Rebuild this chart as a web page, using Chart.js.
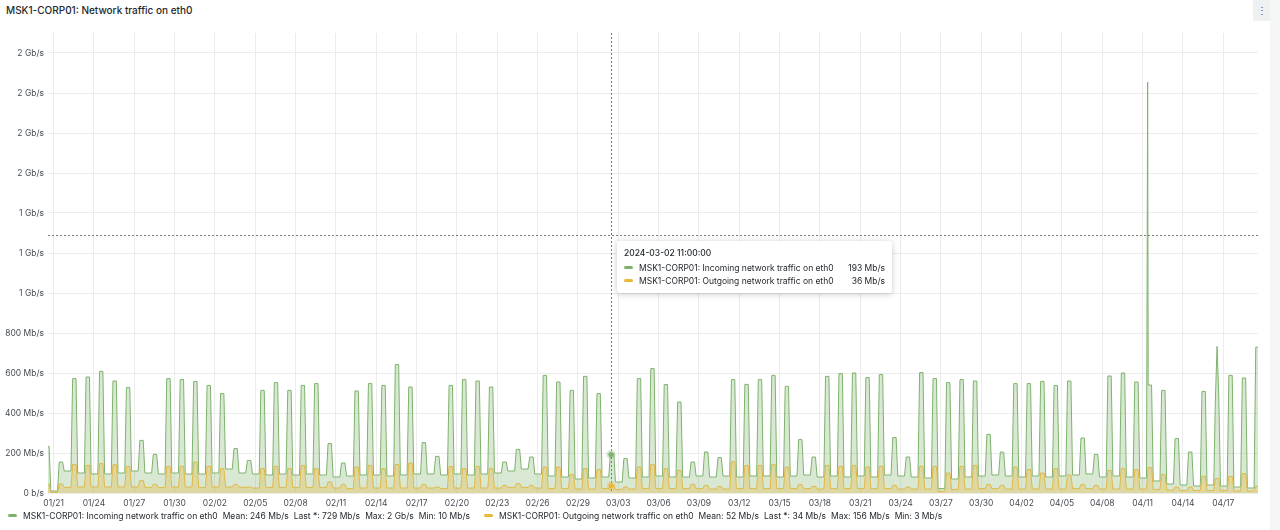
<!DOCTYPE html>
<html>
<head>
<meta charset="utf-8">
<script src="https://cdn.jsdelivr.net/npm/chart.js@4.4.1/dist/chart.umd.min.js"></script>
<style>
  body { margin: 0; background: #fff; font-family: Inter, sans-serif; }
  #wrap { position: relative; width: 1280px; height: 530px; overflow: hidden; }
  #title { position: absolute; left: 6px; top: 4px; font-size: 10px; font-weight: 500; color: #24292e; }
  #menu { position: absolute; left: 1253px; top: 0; width: 17px; height: 21px; background: #eff0f1; color: #555; font-size: 10px; line-height: 20px; text-align: center; }
  #strip { position: absolute; left: 1270px; top: 0; width: 10px; height: 530px; background: #f4f5f5; }
  canvas { position: absolute; left: 0; top: 0; }
  .legend { position: absolute; top: 511px; font-size: 8.5px; color: #24292e; white-space: nowrap; }
  .legend i { display: inline-block; width: 9px; height: 3px; border-radius: 2px; vertical-align: middle; margin-right: 6px; position: relative; top: -1px; }
  .legend span { margin-left: 5px; }
  #tip { position: absolute; left: 617px; top: 241px; width: 275px; height: 52px; background: #fff; border-radius: 3px;
         box-shadow: 0 1px 6px rgba(0,0,0,0.22); font-size: 8.5px; color: #24292e; box-sizing: border-box; padding: 7px 7px 0 7px; }
  #tip .head { font-weight: 500; margin-bottom: 3px; }
  #tip .row { display: flex; align-items: center; height: 13px; }
  #tip .row i { display: inline-block; width: 9px; height: 3px; border-radius: 2px; margin-right: 6px; }
  #tip .row b { font-weight: 400; margin-left: auto; }
</style>
</head>
<body>
<div id="wrap">
  <div id="title">MSK1-CORP01: Network traffic on eth0</div>
  <div id="menu">&#8942;</div>
  <div id="strip"></div>
  <canvas id="chart" width="1262" height="512"></canvas>
  <div class="legend" id="legIn" style="left:8px"></div>
  <div class="legend" id="legOut" style="left:484px"></div>
  <div id="tip"></div>
</div>
<script>
// DATA (one value per day, 2024-01-20 .. 2024-04-19, Mb/s)
const startDay = Date.UTC(2024, 0, 20);

const inPeak = [233, 155,
  572, 580, 608, 560, 527, 263, 193,
  572, 567, 557, 538, 497, 222, 163,
  513, 552, 513, 538, 547, 247, 150,
  510, 547, 538, 642, 530, 252, 183,
  538, 567, 560, 530, 155, 218, 180,
  588, 555, 513, 583, 497, 198, 172,
  572, 622, 542, 455, 155, 205, 177,
  567, 543, 567, 588, 533, 267, 180,
  583, 597, 600, 577, 592, 277, 180,
  602, 572, 552, 567, 560, 293, 205,
  547, 547, 558, 538, 560, 275, 193,
  585, 600, 555, 540, 513, 272, 205,
  508, 480, 588, 575, 729];

const inLow = [60, 10,
  110, 100, 95, 95, 100, 110, 100,
  95, 100, 95, 95, 100, 120, 100,
  95, 90, 95, 90, 95, 90, 80,
  85, 90, 90, 85, 90, 95, 95,
  90, 95, 90, 95, 100, 110, 120,
  95, 85, 80, 70, 75, 80, 55,
  75, 80, 85, 80, 80, 85, 80,
  85, 80, 85, 85, 80, 85, 90,
  80, 85, 80, 85, 80, 90, 85,
  80, 75, 22, 70, 80, 85, 90,
  85, 80, 85, 80, 85, 90, 95,
  80, 85, 80, 75, 60, 45, 40,
  35, 40, 35, 30, 25];

const outPeak = [45, 45,
  143, 138, 147, 142, 133, 63, 43,
  133, 133, 155, 133, 122, 43, 30,
  122, 133, 122, 138, 122, 55, 43,
  130, 138, 122, 143, 150, 43, 30,
  133, 122, 133, 122, 38, 47, 38,
  130, 130, 93, 122, 117, 40, 30,
  130, 143, 122, 113, 43, 38, 33,
  156, 138, 138, 143, 130, 43, 33,
  138, 133, 138, 130, 133, 38, 30,
  133, 133, 100, 133, 138, 43, 38,
  130, 117, 100, 122, 90, 43, 38,
  113, 122, 117, 127, 93, 30, 30,
  83, 72, 83, 97, 34];

const outLow = [25, 3,
  28, 30, 30, 30, 30, 30, 28,
  28, 30, 30, 28, 30, 30, 28,
  25, 28, 28, 28, 28, 28, 25,
  22, 25, 25, 25, 25, 25, 25,
  22, 25, 25, 25, 25, 28, 28,
  25, 22, 22, 20, 20, 22, 18,
  20, 22, 22, 22, 22, 22, 20,
  20, 22, 22, 22, 22, 22, 22,
  20, 22, 22, 22, 22, 22, 20,
  20, 20, 8, 18, 20, 22, 22,
  20, 20, 20, 20, 20, 22, 22,
  20, 20, 20, 20, 18, 15, 12,
  12, 12, 12, 10, 10];

// single-hour spikes on the incoming series: [date, hour, Mb/s]
const inSpikes = [["2024-04-11", 9, 2055], ["2024-04-16", 13, 733]];

// hovered sample shown in the tooltip
const hoverDate = "2024-03-02";
const hoverHour = 11;
const hoverIn = 193;
const hoverOut = 36;
const hoverCursor = 1290; // mouse height on the y axis

const yTicks = [0, 200, 400, 600, 800, 1000, 1200, 1400, 1600, 1800, 2000, 2200];
const yTickLabels = ["0 b/s", "200 Mb/s", "400 Mb/s", "600 Mb/s", "800 Mb/s", "1 Gb/s", "1 Gb/s",
  "1 Gb/s", "2 Gb/s", "2 Gb/s", "2 Gb/s", "2 Gb/s"];
const xTickLabels = ["01/21", "01/24", "01/27", "01/30", "02/02", "02/05", "02/08", "02/11", "02/14",
  "02/17", "02/20", "02/23", "02/26", "02/29", "03/03", "03/06", "03/09", "03/12", "03/15", "03/18",
  "03/21", "03/24", "03/27", "03/30", "04/02", "04/05", "04/08", "04/11", "04/14", "04/17"];

const seriesNames = ["MSK1-CORP01: Incoming network traffic on eth0", "MSK1-CORP01: Outgoing network traffic on eth0"];
const seriesStats = [
  ["Mean: 246 Mb/s", "Last *: 729 Mb/s", "Max: 2 Gb/s", "Min: 10 Mb/s"],
  ["Mean: 52 Mb/s", "Last *: 34 Mb/s", "Max: 156 Mb/s", "Min: 3 Mb/s"]
];
const colors = ["#7EB26D", "#EAB839"];

// HELPERS
const dayOf = (s) => (Date.UTC(2024, +s.slice(5, 7) - 1, +s.slice(8, 10)) - startDay) / 86400000;
const dayOfMD = (s) => (Date.UTC(2024, +s.slice(0, 2) - 1, +s.slice(3, 5)) - startDay) / 86400000;

// place each day's night level and daytime peak at fixed hours
const buildSeries = (low, peak, extra) => {
  const pts = [];
  low.forEach((l, d) => {
    const next = d + 1 < low.length ? low[d + 1] : l;
    pts.push({ x: d, y: l });
    pts.push({ x: d + 7 / 24, y: l });
    pts.push({ x: d + 10 / 24, y: peak[d] });
    pts.push({ x: d + 16 / 24, y: peak[d] });
    pts.push({ x: d + 19 / 24, y: next });
  });
  extra.forEach(e => pts.push({ x: dayOf(e[0]) + e[1] / 24, y: e[2] }));
  return pts.sort((a, b) => a.x - b.x);
};

const hoverX = dayOf(hoverDate) + hoverHour / 24;
const inData = buildSeries(inLow, inPeak, inSpikes.concat([[hoverDate, hoverHour, hoverIn]]));
const outData = buildSeries(outLow, outPeak, [[hoverDate, hoverHour, hoverOut]]);
const xMin = 14 / 24;
const xMax = 90 + 14 / 24;

// LEGEND + TOOLTIP
["legIn", "legOut"].forEach((id, i) => {
  document.getElementById(id).innerHTML =
    `<i style="background:${colors[i]}"></i>${seriesNames[i]}` +
    seriesStats[i].map(s => `<span>${s}</span>`).join("");
});
document.getElementById("tip").innerHTML =
  `<div class="head">${hoverDate} ${String(hoverHour).padStart(2, "0")}:00:00</div>` +
  `<div class="row"><i style="background:${colors[0]}"></i>${seriesNames[0]}<b>${hoverIn} Mb/s</b></div>` +
  `<div class="row"><i style="background:${colors[1]}"></i>${seriesNames[1]}<b>${hoverOut} Mb/s</b></div>`;

// CROSSHAIR
const crosshair = {
  id: "crosshair",
  afterDatasetsDraw(chart) {
    const { ctx, chartArea: a, scales: { x, y } } = chart;
    const px = x.getPixelForValue(hoverX);
    const py = y.getPixelForValue(hoverCursor);
    ctx.save();
    ctx.strokeStyle = "#7a7a7a";
    ctx.lineWidth = 1;
    ctx.setLineDash([2, 2]);
    ctx.beginPath();
    ctx.moveTo(Math.round(px) + 0.5, a.top);
    ctx.lineTo(Math.round(px) + 0.5, a.bottom);
    ctx.moveTo(a.left, Math.round(py) + 0.5);
    ctx.lineTo(a.right, Math.round(py) + 0.5);
    ctx.stroke();
    ctx.setLineDash([]);
    [[hoverIn, colors[0]], [hoverOut, colors[1]]].forEach(([v, c]) => {
      const vy = y.getPixelForValue(v);
      ctx.fillStyle = c + "55";
      ctx.beginPath(); ctx.arc(px, vy, 4.5, 0, Math.PI * 2); ctx.fill();
      ctx.fillStyle = c;
      ctx.beginPath(); ctx.arc(px, vy, 2.5, 0, Math.PI * 2); ctx.fill();
    });
    ctx.restore();
  }
};

// CHART
Chart.defaults.font.family = "Inter, sans-serif";
Chart.defaults.font.size = 8.5;
Chart.defaults.color = "#464c54";

new Chart(document.getElementById("chart"), {
  type: "line",
  data: {
    datasets: [
      { label: seriesNames[0], data: inData, borderColor: colors[0], backgroundColor: "rgba(126,178,109,0.3)",
        borderWidth: 1, pointRadius: 0, fill: "origin", order: 2 },
      { label: seriesNames[1], data: outData, borderColor: "#E0B848", backgroundColor: "rgba(234,184,57,0.32)",
        borderWidth: 1, pointRadius: 0, fill: "origin", order: 1 }
    ]
  },
  options: {
    responsive: false,
    animation: false,
    layout: { padding: { top: 33, right: 4, bottom: 0, left: 0 } },
    plugins: { legend: { display: false }, tooltip: { enabled: false } },
    scales: {
      x: {
        type: "linear", min: xMin, max: xMax,
        afterBuildTicks: s => { s.ticks = xTickLabels.map(l => ({ value: dayOfMD(l) })); },
        afterFit: s => { s.height = 19; },
        ticks: { autoSkip: false, maxRotation: 0, padding: 5, callback: (v, i) => xTickLabels[i] },
        grid: { color: "#ececec", drawTicks: false },
        border: { display: false }
      },
      y: {
        min: 0, max: 2300,
        afterBuildTicks: s => { s.ticks = yTicks.map(v => ({ value: v })); },
        afterFit: s => { s.width = 48; },
        ticks: { padding: 4, callback: (v, i) => yTickLabels[i] },
        grid: { color: "#ececec", drawTicks: false },
        border: { display: false }
      }
    }
  },
  plugins: [crosshair]
});
</script>
</body>
</html>
